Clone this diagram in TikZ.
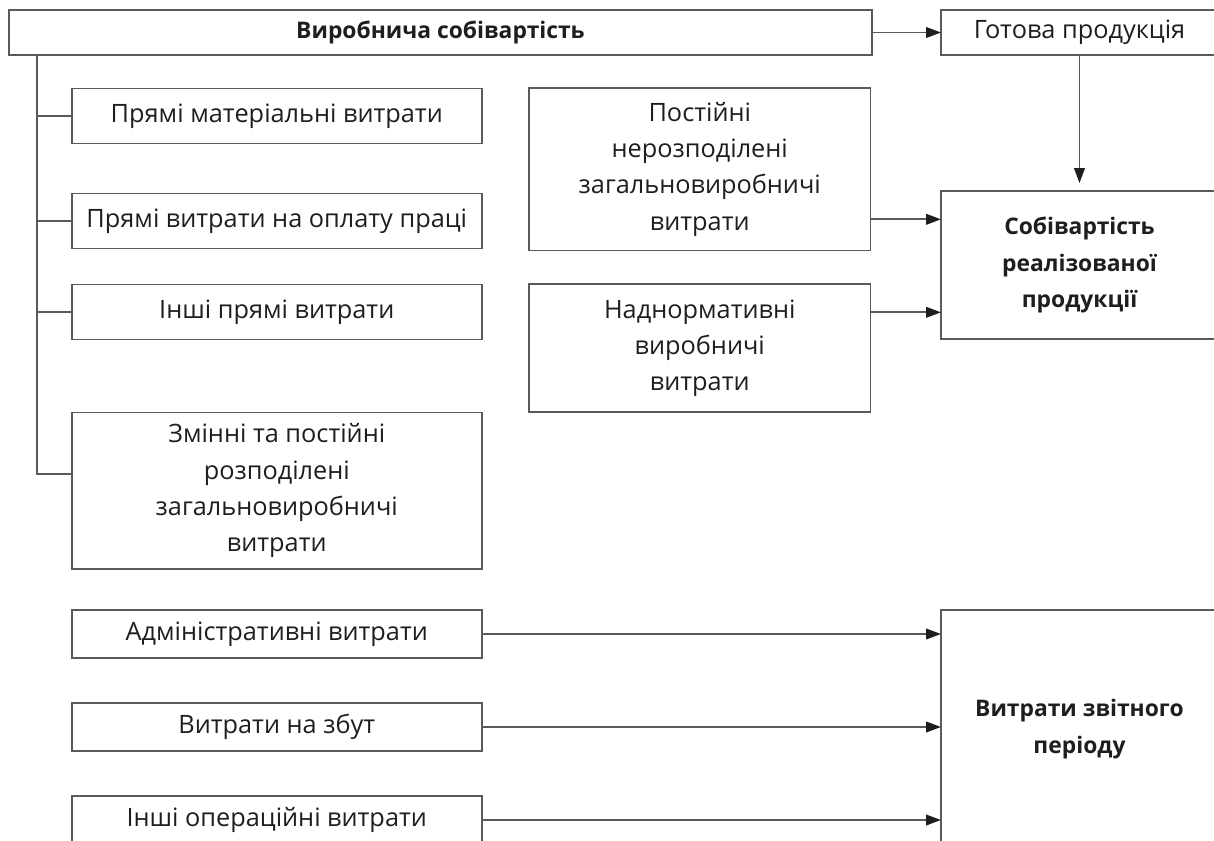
\documentclass[tikz,border=0pt]{standalone}
\usepackage{fontspec}
\setmainfont{Open Sans}
\usetikzlibrary{arrows.meta}
\definecolor{linegray}{RGB}{90,90,90}
\definecolor{textgray}{RGB}{30,30,30}

\begin{document}
\begin{tikzpicture}[x=0.02cm, y=-0.02cm, >={Triangle[length=8.5pt,width=6pt,color=textgray]},
        box/.style={draw=linegray, line width=1.1pt, rectangle, inner sep=0pt, outer sep=0pt,
            align=center, text=textgray, font=\fontsize{14.4}{20.6}\selectfont},
        head/.style={font=\fontsize{13}{20.6}\selectfont\bfseries},
        wide/.style={box, minimum width=8.21cm},
        mid/.style={box, minimum width=6.83cm},
        right/.style={box, minimum width=5.54cm},
        link/.style={draw=linegray, line width=1.1pt}]
            \useasboundingbox (0,0) rectangle (1214,841);
            \fill[white] (0,0) rectangle (1214,841);
            \clip (0,0) rectangle (1214,841);

            \node[box, head, minimum width=17.26cm, minimum height=0.9cm] (prod) at (440.5,32.5) {Виробнича собівартість};
            \node[right, minimum height=0.9cm] (ready) at (1079.5,32.5) {Готова продукція};
            \node[right, head, minimum height=2.96cm] (sales) at (1079.5,265) {Собівартість\\реалізованої\\продукції};
            \node[right, head, minimum height=4.76cm] (period) at (1079.5,729) {Витрати звітного\\періоду};

            \node[wide, minimum height=1.1cm] (dm) at (276.75,116) {Прямі матеріальні витрати};
            \node[wide, minimum height=1.1cm] (dl) at (276.75,221) {Прямі витрати на оплату праці};
            \node[wide, minimum height=1.1cm] (od) at (276.75,312) {Інші прямі витрати};
            \node[wide, minimum height=3.13cm] (oh) at (276.75,490.75) {Змінні та постійні\\розподілені\\загальновиробничі\\витрати};

            \node[mid, minimum height=3.25cm] (fixed) at (699.75,169.25) {Постійні\\нерозподілені\\загальновиробничі\\витрати};
            \node[mid, minimum height=2.56cm] (abn) at (699.75,348) {Наднормативні\\виробничі\\витрати};

            \node[wide, minimum height=0.96cm] (adm) at (276.75,634) {Адміністративні витрати};
            \node[wide, minimum height=0.96cm] (sell) at (276.75,727) {Витрати на збут};
            \node[wide, minimum height=0.96cm] (oth) at (276.75,820) {Інші операційні витрати};

            \coordinate (tr) at (37,0);
            \coordinate (ohin) at ([yshift=9.5pt]oh.west);

            \draw[link] (prod.south -| tr) -- (ohin -| tr) -- (ohin);
            \foreach \b in {dm,dl,od}
                \draw[link] (\b.west -| tr) -- (\b.west);

            \path[->, every edge/.append style={link}]
                (prod.east) edge (ready.west)
                (ready.south) edge[shorten >=4.5pt] (sales.north)
                ([yshift=-28.5pt]fixed.east) edge ([yshift=-28.5pt]fixed.east -| sales.west)
                ([yshift=20.3pt]abn.east) edge ([yshift=20.3pt]abn.east -| sales.west);
            \foreach \b in {adm,sell,oth}
                \draw[link, ->] (\b.east) -- (\b.east -| period.west);
\end{tikzpicture}
\end{document}
